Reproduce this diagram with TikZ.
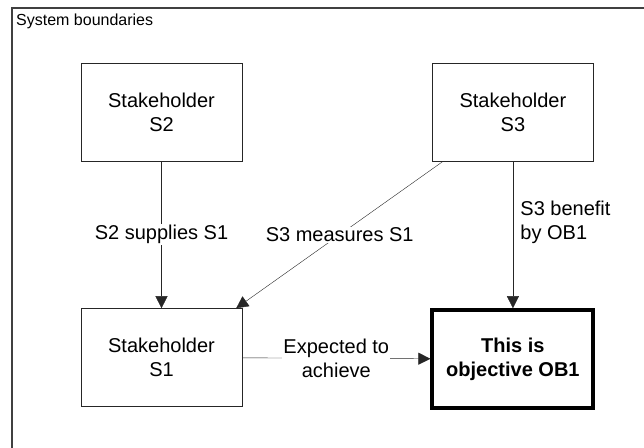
\documentclass[tikz,border=0pt]{standalone}
\usepackage{fontspec}
\setmainfont{Liberation Sans}
\usetikzlibrary{arrows.meta,positioning}
\tikzset{every picture/.style={
  >={Triangle[length=12pt,width=12pt]}   % Filled triangle arrows.
  }
}

\begin{document}
\begin{tikzpicture}[x=1pt,y=-1pt,
    sh/.style={
      draw=black!85,
      minimum width=161pt,
      minimum height=98pt,
      align=center,
      font=\fontsize{20}{24}\selectfont
    },
    lbl/.style={
      font=\fontsize{20}{24}\selectfont,
      fill=white,
      align=center,
      inner sep=1pt
    }]

    \useasboundingbox (0,0) rectangle (644,447);

    % The system boundary runs off the page at right and bottom.
    \draw[black!75,line width=1.4pt] (12,460) -- (12,8) -- (660,8);
    \node[anchor=north west,inner sep=0pt,font=\fontsize{16}{19}\selectfont]
      (bound) at (16,14) {System boundaries};

    % The stakeholders and the objective.
    \node[sh] (s2) at (161.5,112) {Stakeholder\\S2};
    \node[sh,right=190pt of s2] (s3) {Stakeholder\\S3};
    \node[sh,below=147pt of s2] (s1) {Stakeholder\\S1};
    \node[sh,below=147pt of s3,draw=black,line width=4pt,
      font=\bfseries\fontsize{20}{24}\selectfont] (ob1) {This is\\objective OB1};

    % Relations between them.
    \draw[->,black!85] (s2) -- (s1) node[lbl,midway,text=black] {S2 supplies S1};
    \draw[->,black!85] ([xshift=11pt] s3.south west) --
      ([xshift=-6pt] s1.north east) node[lbl,midway,text=black] {S3 measures S1};
    \draw[->,black!85] (s3) -- (ob1) node[pos=.415,right=4pt,align=left,
      text=black,font=\fontsize{20}{24}\selectfont] {S3 benefit\\by OB1};
    \draw[->,black!85] (s1) -- (ob1) node[lbl,midway,text=black] {Expected to\\achieve};
\end{tikzpicture}
\end{document}
